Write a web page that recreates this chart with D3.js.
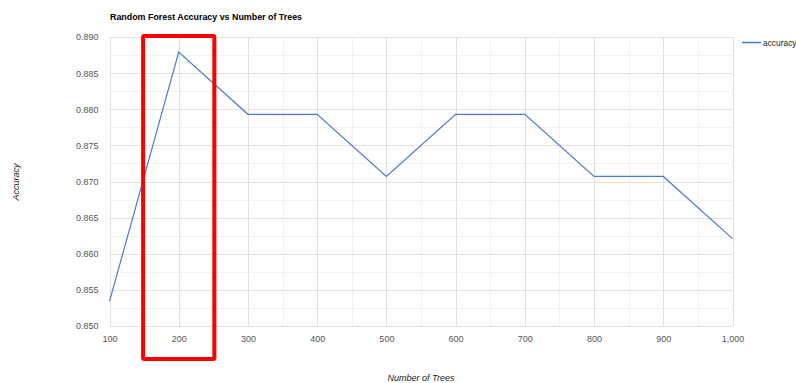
<!DOCTYPE html>
<html>
<head>
<meta charset="utf-8">
<script src="https://cdn.jsdelivr.net/npm/d3@7"></script>
<style>
  body { margin: 0; background: #fff; }
  svg { display: block; font-family: "Liberation Sans", Arial, sans-serif; }
</style>
</head>
<body>
<div id="chart"></div>
<script>

// Chart data.
var trees = [100, 200, 300, 400, 500, 600, 700, 800, 900, 1000];
var accuracy = [0.8534, 0.8879, 0.8793, 0.8793, 0.8707,
                0.8793, 0.8793, 0.8707, 0.8707, 0.8621];
var xTicks = [100, 200, 300, 400, 500, 600, 700, 800, 900, 1000];
var yTicks = [0.850, 0.855, 0.860, 0.865, 0.870, 0.875, 0.880, 0.885, 0.890];
var highlight = [150, 250];

(function() {

  var W = 796, H = 383;
  var plotL = 109.5, plotR = 732.5, plotT = 37, plotB = 326;

  var svg = d3.select('#chart').append('svg')
    .attr('width', W).attr('height', H);

  var x = d3.scaleLinear().domain([100, 1000]).range([plotL, plotR]);
  var y = d3.scaleLinear().domain([0.850, 0.890]).range([plotB, plotT]);

  // Minor gridlines (halfway between majors).
  var xMinor = d3.range(150, 1000, 100);
  var yMinor = yTicks.slice(0, -1).map(function(d) { return d + 0.0025; });

  var px = function(v) { return Math.round(v) + 0.5; };
  var grid = svg.append('g');

  grid.selectAll('.xm').data(xMinor).enter().append('line')
    .attr('x1', function(d) { return px(x(d)); })
    .attr('x2', function(d) { return px(x(d)); })
    .attr('y1', plotT).attr('y2', plotB)
    .attr('stroke', '#f2f2f2');

  grid.selectAll('.ym').data(yMinor).enter().append('line')
    .attr('y1', function(d) { return px(y(d)); })
    .attr('y2', function(d) { return px(y(d)); })
    .attr('x1', plotL).attr('x2', plotR)
    .attr('stroke', '#f2f2f2');

  grid.selectAll('.xM').data(xTicks).enter().append('line')
    .attr('x1', function(d) { return px(x(d)); })
    .attr('x2', function(d) { return px(x(d)); })
    .attr('y1', plotT).attr('y2', plotB)
    .attr('stroke', '#e2e2e2');

  grid.selectAll('.yM').data(yTicks).enter().append('line')
    .attr('y1', function(d) { return px(y(d)); })
    .attr('y2', function(d) { return px(y(d)); })
    .attr('x1', plotL).attr('x2', plotR)
    .attr('stroke', '#e2e2e2');

  // Axes: d3 generators, with the domain and tick marks stripped.
  var xAxis = svg.append('g')
    .attr('transform', 'translate(0,' + (plotB + 5) + ')')
    .call(d3.axisBottom(x).tickValues(xTicks).tickSize(0)
      .tickFormat(d3.format(',')));

  var yAxis = svg.append('g')
    .attr('transform', 'translate(' + (plotL - 8) + ',0)')
    .call(d3.axisLeft(y).tickValues(yTicks).tickSize(0)
      .tickFormat(d3.format('.3f')));

  [xAxis, yAxis].forEach(function(a) {
    a.select('.domain').remove();
    a.selectAll('text')
      .attr('fill', '#555')
      .style('font-size', '9px')
      .style('font-family', '"Liberation Sans", Arial, sans-serif');
  });
  xAxis.selectAll('text').attr('dy', '0.9em');

  // Data line.
  var line = d3.line()
    .x(function(d, i) { return x(trees[i]); })
    .y(function(d) { return y(d); });

  svg.append('path')
    .datum(accuracy)
    .attr('d', line)
    .attr('fill', 'none')
    .attr('stroke', '#4a78d8')
    .attr('stroke-width', 1.2);

  // Highlight box around 200 trees.
  svg.append('rect')
    .attr('x', x(highlight[0]) - 1)
    .attr('y', plotT - 1)
    .attr('width', x(highlight[1]) - x(highlight[0]) + 2)
    .attr('height', 360 - plotT)
    .attr('fill', 'none')
    .attr('stroke', '#ff0000')
    .attr('stroke-width', 4)
    .attr('rx', 1);

  // Title.
  svg.append('text')
    .attr('x', 110).attr('y', 20)
    .style('font-size', '8.9px')
    .style('font-weight', 'bold')
    .attr('fill', '#000')
    .text('Random Forest Accuracy vs Number of Trees');

  // Axis titles.
  svg.append('text')
    .attr('transform', 'translate(19,182) rotate(-90)')
    .attr('text-anchor', 'middle')
    .style('font-size', '9px')
    .style('font-style', 'italic')
    .attr('fill', '#222')
    .text('Accuracy');

  svg.append('text')
    .attr('x', 421).attr('y', 381)
    .attr('text-anchor', 'middle')
    .style('font-size', '9px')
    .style('font-style', 'italic')
    .attr('fill', '#222')
    .text('Number of Trees');

  // Legend.
  svg.append('line')
    .attr('x1', 742).attr('x2', 761)
    .attr('y1', 42.5).attr('y2', 42.5)
    .attr('stroke', '#4a78d8')
    .attr('stroke-width', 1.5);

  svg.append('text')
    .attr('x', 763).attr('y', 45.5)
    .style('font-size', '8.4px')
    .attr('fill', '#222')
    .text('accuracy');

})();

</script>
</body>
</html>
